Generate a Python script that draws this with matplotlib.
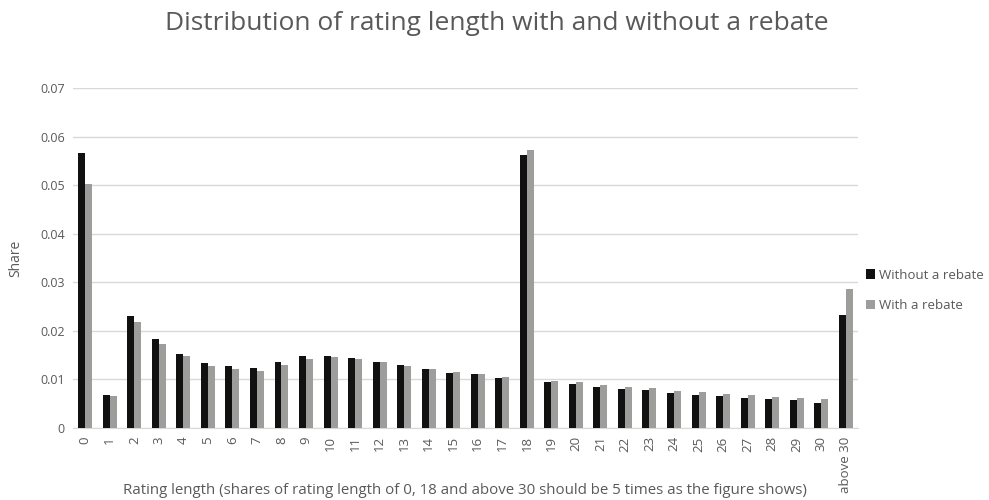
import matplotlib
matplotlib.use("Agg")
import matplotlib.pyplot as plt
import numpy as np

plt.rcParams['font.family'] = ['Open Sans', 'DejaVu Sans']

categories = [str(i) for i in range(31)] + ["above 30"]
without_rebate = [0.0566, 0.0067, 0.0230, 0.0183, 0.0152, 0.0134, 0.0127, 0.0123,
                  0.0135, 0.0148, 0.0148, 0.0144, 0.0135, 0.0130, 0.0121, 0.0114,
                  0.0112, 0.0103, 0.0563, 0.0094, 0.0091, 0.0084, 0.0081, 0.0079,
                  0.0073, 0.0068, 0.0066, 0.0062, 0.0059, 0.0057, 0.0052, 0.0232]
with_rebate = [0.0503, 0.0065, 0.0218, 0.0173, 0.0148, 0.0127, 0.0121, 0.0117,
               0.0129, 0.0143, 0.0146, 0.0143, 0.0135, 0.0128, 0.0121, 0.0116,
               0.0111, 0.0106, 0.0572, 0.0097, 0.0094, 0.0089, 0.0084, 0.0082,
               0.0077, 0.0074, 0.0070, 0.0067, 0.0064, 0.0061, 0.0059, 0.0286]
yticks = [0, 0.01, 0.02, 0.03, 0.04, 0.05, 0.06, 0.07]
ytick_labels = ["0", "0.01", "0.02", "0.03", "0.04", "0.05", "0.06", "0.07"]

text_color = "#595959"
fig = plt.figure(figsize=(9.89, 5.0), dpi=100)
ax = fig.add_axes([0.0738, 0.144, 0.7937, 0.68])

x = np.arange(len(categories))
w = 0.285
ax.bar(x - w / 2, without_rebate, width=w, color="#111111", label="Without a rebate", zorder=3)
ax.bar(x + w / 2, with_rebate, width=w, color="#9d9d9b", label="With a rebate", zorder=3)

ax.set_xlim(-0.5, len(categories) - 0.5)
ax.set_ylim(0, 0.07)
ax.set_yticks(yticks)
ax.set_yticklabels(ytick_labels, color=text_color, fontsize=9)
ax.set_xticks(x)
ax.set_xticklabels(categories, rotation=90, color=text_color, fontsize=9.5)
ax.tick_params(axis='both', length=0, pad=6)
ax.grid(axis='y', color="#d9d9d9", linewidth=1, zorder=0)
for s in ['top', 'right', 'left']:
    ax.spines[s].set_visible(False)
ax.spines['bottom'].set_color("#d9d9d9")

ax.set_ylabel("Share", color=text_color, fontsize=10, labelpad=12)
fig.text(0.470, 0.02,
         "Rating length (shares of rating length of 0, 18 and above 30 should be 5 times as the figure shows)",
         ha='center', va='center', fontsize=10.8, color=text_color)
fig.text(0.502, 0.952, "Distribution of rating length with and without a rebate",
         ha='center', va='center', fontsize=19, color=text_color)

leg = ax.legend(loc='center left', bbox_to_anchor=(1.0, 0.405), frameon=False,
                fontsize=9.5, handlelength=0.7, handleheight=0.7, handletextpad=0.3,
                labelspacing=1.3, borderaxespad=0.2)
for t in leg.get_texts():
    t.set_color(text_color)

fig.savefig("out.png", dpi=100)
